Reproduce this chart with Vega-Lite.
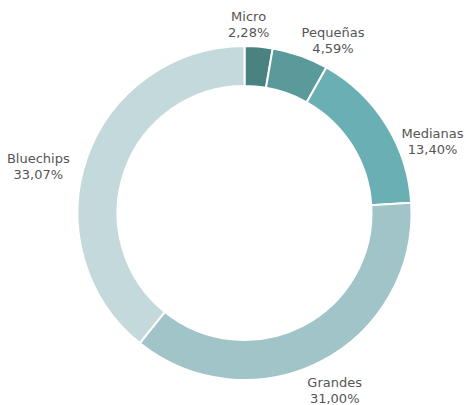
{
  "$schema": "https://vega.github.io/schema/vega-lite/v6.json",
  "width": 445,
  "height": 394,
  "padding": {"left": 22, "top": 16, "right": 0, "bottom": 0},
  "autosize": "none",
  "background": "white",
  "config": {"view": {"stroke": null}},
  "data": {
    "values": [
      {"idx": 1, "name": "Micro", "value": 2.28},
      {"idx": 2, "name": "Pequeñas", "value": 4.59},
      {"idx": 3, "name": "Medianas", "value": 13.40},
      {"idx": 4, "name": "Grandes", "value": 31.00},
      {"idx": 5, "name": "Bluechips", "value": 33.07}
    ]
  },
  "transform": [
    {"calculate": "[datum.name, replace(format(datum.value, '.2f'), '.', ',') + '%']", "as": "label"}
  ],
  "encoding": {
    "theta": {"field": "value", "type": "quantitative", "stack": true},
    "order": {"field": "idx", "type": "quantitative"}
  },
  "layer": [
    {
      "mark": {"type": "arc", "radius": 167, "innerRadius": 127, "stroke": "white", "strokeWidth": 2},
      "encoding": {
        "color": {
          "field": "name", "type": "nominal", "legend": null,
          "scale": {
            "domain": ["Micro", "Pequeñas", "Medianas", "Grandes", "Bluechips"],
            "range": ["#4a8282", "#5a9a9a", "#6aafb4", "#a0c4c7", "#c4d9db"]
          }
        }
      }
    },
    {
      "mark": {"type": "text", "radius": 190, "align": "center", "baseline": "alphabetic", "font": "DejaVu Sans", "fontSize": 13, "lineHeight": 16, "color": "#555555", "dx": -12, "dy": -3},
      "encoding": {"text": {"condition": {"test": "datum.name === 'Micro'", "field": "label"}, "value": ""}}
    },
    {
      "mark": {"type": "text", "radius": 190, "align": "center", "baseline": "alphabetic", "font": "DejaVu Sans", "fontSize": 13, "lineHeight": 16, "color": "#555555", "dx": 25, "dy": 3},
      "encoding": {"text": {"condition": {"test": "datum.name === 'Pequeñas'", "field": "label"}, "value": ""}}
    },
    {
      "mark": {"type": "text", "radius": 190, "align": "center", "baseline": "alphabetic", "font": "DejaVu Sans", "fontSize": 13, "lineHeight": 16, "color": "#555555", "dx": 27, "dy": 26},
      "encoding": {"text": {"condition": {"test": "datum.name === 'Medianas'", "field": "label"}, "value": ""}}
    },
    {
      "mark": {"type": "text", "radius": 190, "align": "center", "baseline": "alphabetic", "font": "DejaVu Sans", "fontSize": 13, "lineHeight": 16, "color": "#555555", "dx": 3, "dy": 5},
      "encoding": {"text": {"condition": {"test": "datum.name === 'Grandes'", "field": "label"}, "value": ""}}
    },
    {
      "mark": {"type": "text", "radius": 190, "align": "center", "baseline": "alphabetic", "font": "DejaVu Sans", "fontSize": 13, "lineHeight": 16, "color": "#555555", "dx": -27, "dy": 13},
      "encoding": {"text": {"condition": {"test": "datum.name === 'Bluechips'", "field": "label"}, "value": ""}}
    }
  ]
}
